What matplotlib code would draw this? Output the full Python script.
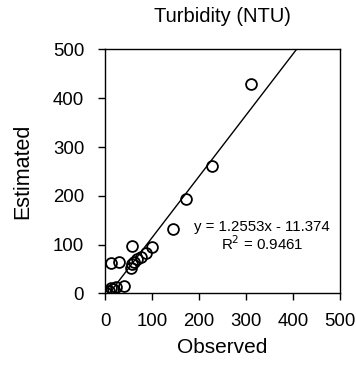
import matplotlib.pyplot as plt
import numpy as np

plt.rcParams['font.family'] = ['Liberation Sans', 'DejaVu Sans']

# values
observed = [2, 8, 13, 18, 24, 40, 13, 30, 55, 57, 62, 68, 76, 87, 100, 57, 145, 172, 228, 310]
estimated = [1, 5, 10, 8, 14, 15, 63, 64, 52, 60, 65, 70, 74, 83, 96, 98, 132, 193, 261, 430]
slope = 1.2553
intercept = -11.374
r2 = 0.9461
ticks = [0, 100, 200, 300, 400, 500]

fig = plt.figure(figsize=(3.56, 3.69), dpi=100)
ax = fig.add_axes([0.295, 0.205, 0.66, 0.661])

ax.plot(observed, estimated, 'o', ms=7.8, mfc='none', mec='black', mew=1.3, zorder=3)

x = np.array([-intercept / slope, (500 - intercept) / slope])
ax.plot(x, slope * x + intercept, 'k-', lw=1)

ax.text(334, 136, 'y = %.4fx - %.3f' % (slope, -intercept), ha='center', va='center', fontsize=10.8)
ax.text(334, 101, 'R$^2$ = %.4f' % r2, ha='center', va='center', fontsize=10.8)

ax.set_xlim(0, 500)
ax.set_ylim(0, 500)
ax.set_xticks(ticks)
ax.set_yticks(ticks)
ax.tick_params(direction='out', length=5, width=1, labelsize=13.4, pad=9)
ax.tick_params(axis='y', pad=10)
for s in ax.spines.values():
    s.set_linewidth(1)

ax.set_xlabel('Observed', fontsize=15, labelpad=6)
ax.set_ylabel('Estimated', fontsize=15.5, labelpad=14)
fig.text(0.624, 0.954, 'Turbidity (NTU)', ha='center', va='center', fontsize=14.5)

plt.savefig('out.png', dpi=100)
